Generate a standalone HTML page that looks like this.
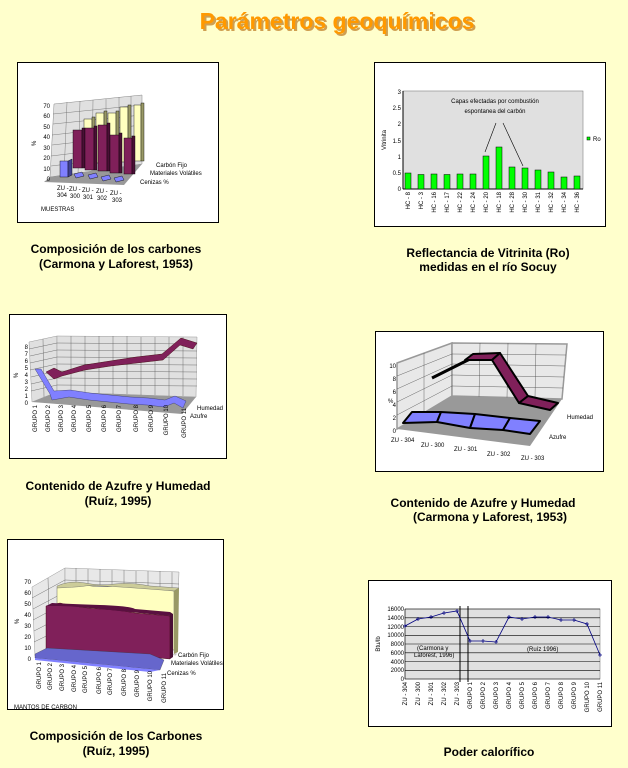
<!DOCTYPE html>
<html><head><meta charset="utf-8"><style>
html,body{margin:0;padding:0;background:#FFFFCC;}
svg{display:block;font-family:"Liberation Sans",Arial,sans-serif;}
.cap{font-size:12px;font-weight:bold;fill:#000;text-anchor:middle;}
.t{font-size:6px;fill:#000;}
.g{stroke:#000;stroke-width:0.5;fill:none;}
</style></head><body>
<svg width="628" height="768" viewBox="0 0 628 768" xmlns="http://www.w3.org/2000/svg">
<rect width="628" height="768" fill="#FFFFCC"/>
<!-- Title -->
<text x="339" y="31" text-anchor="middle" font-size="23" font-weight="bold" fill="#B06000" opacity="0.6">Parámetros geoquímicos</text>
<text x="337" y="29" text-anchor="middle" font-size="23" font-weight="bold" fill="#FF9900">Parámetros geoquímicos</text>

<!-- ===== Chart 1 ===== -->
<rect x="17.5" y="62.5" width="201" height="160" fill="#fff" stroke="#000"/>
<polygon points="54,104 142,95 142,164 50,177" fill="#E0E0E0" stroke="#888" stroke-width="0.5"/>
<g stroke="#666" stroke-width="0.4">
<line x1="53" y1="114" x2="142" y2="105"/><line x1="53" y1="124" x2="142" y2="115"/><line x1="52" y1="135" x2="142" y2="125"/><line x1="52" y1="145" x2="142" y2="135"/><line x1="51" y1="156" x2="142" y2="145"/><line x1="51" y1="166" x2="142" y2="155"/>
<line x1="67" y1="102" x2="64" y2="176"/><line x1="80" y1="101" x2="78" y2="174"/><line x1="93" y1="100" x2="92" y2="172"/><line x1="106" y1="99" x2="106" y2="170"/><line x1="119" y1="97" x2="119" y2="168"/><line x1="131" y1="96" x2="131" y2="166"/>
</g>
<polygon points="50,177 142,164 124,185 44,182" fill="#999"/>
<!-- yellow bars -->
<g stroke="#000" stroke-width="0.4">
<rect x="84" y="119" width="8" height="45" fill="#FFFFC0"/><rect x="92" y="117" width="3" height="47" fill="#999966"/>
<rect x="96" y="113" width="8" height="50" fill="#FFFFC0"/><rect x="104" y="111" width="3" height="52" fill="#999966"/>
<rect x="108" y="113" width="8" height="50" fill="#FFFFC0"/><rect x="116" y="111" width="3" height="52" fill="#999966"/>
<rect x="120" y="107" width="8" height="55" fill="#FFFFC0"/><rect x="128" y="105" width="3" height="57" fill="#999966"/>
<rect x="134" y="105" width="7" height="56" fill="#FFFFC0"/><rect x="141" y="103" width="3" height="58" fill="#999966"/>
<!-- maroon bars -->
<rect x="73" y="130" width="9" height="38" fill="#80205A"/><rect x="82" y="128" width="3" height="40" fill="#4A0F35"/>
<rect x="85" y="128" width="9" height="42" fill="#80205A"/><rect x="94" y="126" width="3" height="44" fill="#4A0F35"/>
<rect x="98" y="125" width="9" height="46" fill="#80205A"/><rect x="107" y="123" width="3" height="48" fill="#4A0F35"/>
<rect x="110" y="135" width="9" height="38" fill="#80205A"/><rect x="119" y="133" width="3" height="40" fill="#4A0F35"/>
<rect x="124" y="138" width="8" height="36" fill="#80205A"/><rect x="132" y="136" width="3" height="38" fill="#4A0F35"/>
<!-- blue -->
<rect x="60" y="161" width="8" height="16" fill="#8080FF"/><polygon points="68,161 72,159 72,175 68,177" fill="#404090"/>
<polygon points="74,174 82,172 84,176 76,178" fill="#8080FF"/><polygon points="88,175 96,173 98,177 90,179" fill="#8080FF"/>
<polygon points="101,177 109,175 111,179 103,181" fill="#8080FF"/><polygon points="114,178 122,176 124,180 116,182" fill="#8080FF"/>
</g>
<g class="t" text-anchor="end">
<text x="50" y="181">0</text><text x="50" y="171">10</text><text x="50" y="160">20</text><text x="50" y="150">30</text><text x="50" y="139">40</text><text x="50" y="129">50</text><text x="50" y="118">60</text><text x="50" y="108">70</text>
</g>
<text class="t" x="36" y="146" transform="rotate(-90 36 146)">%</text>
<g class="t"><text x="57" y="190">ZU -</text><text x="57" y="197">304</text><text x="69" y="191">ZU -</text><text x="70" y="198">300</text><text x="82" y="192">ZU -</text><text x="83" y="199">301</text><text x="96" y="193">ZU -</text><text x="97" y="200">302</text><text x="110" y="195">ZU -</text><text x="112" y="202">303</text>
<text x="41" y="211">MUESTRAS</text>
<text x="156" y="167">Carbón Fijo</text><text x="150" y="175">Materiales Volátiles</text><text x="140" y="184">Cenizas %</text></g>
<text class="cap" x="116" y="253">Composición de los carbones</text>
<text class="cap" x="116" y="268">(Carmona y Laforest, 1953)</text>

<!-- ===== Chart 2 ===== -->
<rect x="374.5" y="62.5" width="231" height="164" fill="#fff" stroke="#000"/>
<rect x="403" y="91" width="180" height="98" fill="#E0E0E0" stroke="#808080" stroke-width="0.6"/>
<line x1="403" y1="91" x2="403" y2="189" stroke="#000"/><line x1="403" y1="189" x2="583" y2="189" stroke="#000"/>
<g class="t" text-anchor="end">
<text x="401" y="191">0</text><text x="401" y="175">0.5</text><text x="401" y="159">1</text><text x="401" y="143">1.5</text><text x="401" y="126">2</text><text x="401" y="110">2.5</text><text x="401" y="94">3</text></g>
<text class="t" x="386" y="140" text-anchor="middle" transform="rotate(-90 386 140)">Vitrinita</text>
<g fill="#00FF00" stroke="#000" stroke-width="0.5">
<rect x="405" y="173" width="6" height="16"/><rect x="418" y="174.5" width="6" height="14.5"/><rect x="431" y="174" width="6" height="15"/><rect x="444" y="174.5" width="6" height="14.5"/><rect x="457" y="174" width="6" height="15"/><rect x="470" y="174" width="6" height="15"/><rect x="483" y="156" width="6" height="33"/><rect x="496" y="147" width="6" height="42"/><rect x="509" y="167" width="6" height="22"/><rect x="522" y="168" width="6" height="21"/><rect x="535" y="170" width="6" height="19"/><rect x="548" y="172" width="6" height="17"/><rect x="561" y="177" width="6" height="12"/><rect x="574" y="176" width="6" height="13"/>
<rect x="587" y="137" width="3" height="3"/></g>
<g class="t">
<text transform="translate(410 192) rotate(-90)" text-anchor="end">HC - 8</text><text transform="translate(423 192) rotate(-90)" text-anchor="end">HC - 3</text><text transform="translate(436 192) rotate(-90)" text-anchor="end">HC - 16</text><text transform="translate(449 192) rotate(-90)" text-anchor="end">HC - 17</text><text transform="translate(462 192) rotate(-90)" text-anchor="end">HC - 22</text><text transform="translate(475 192) rotate(-90)" text-anchor="end">HC - 24</text><text transform="translate(488 192) rotate(-90)" text-anchor="end">HC - 20</text><text transform="translate(501 192) rotate(-90)" text-anchor="end">HC - 18</text><text transform="translate(514 192) rotate(-90)" text-anchor="end">HC - 28</text><text transform="translate(527 192) rotate(-90)" text-anchor="end">HC - 30</text><text transform="translate(540 192) rotate(-90)" text-anchor="end">HC - 31</text><text transform="translate(553 192) rotate(-90)" text-anchor="end">HC - 32</text><text transform="translate(566 192) rotate(-90)" text-anchor="end">HC - 34</text><text transform="translate(579 192) rotate(-90)" text-anchor="end">HC - 36</text>
<text x="593" y="141">Ro</text>
<text x="495" y="103" text-anchor="middle">Capas efectadas por combustión</text>
<text x="495" y="113" text-anchor="middle">espontanea del carbón</text></g>
<line x1="496" y1="123" x2="485" y2="152" stroke="#000" stroke-width="0.6"/><line x1="503" y1="123" x2="523" y2="166" stroke="#000" stroke-width="0.6"/>
<text class="cap" x="488" y="257">Reflectancia de Vitrinita (Ro)</text>
<text class="cap" x="488" y="271">medidas en el río Socuy</text>

<!-- ===== Chart 3 ===== -->
<rect x="9.5" y="314.5" width="217" height="144" fill="#fff" stroke="#000"/>
<polygon points="29,342 57,336 57,392 32,402" fill="#E0E0E0" stroke="#999" stroke-width="0.5"/>
<polygon points="57,336 197,337 196,397 57,392" fill="#E0E0E0" stroke="#999" stroke-width="0.5"/>
<g stroke="#555" stroke-width="0.4">
<line x1="29" y1="349" x2="57" y2="343"/><line x1="30" y1="356" x2="57" y2="350"/><line x1="30" y1="363" x2="57" y2="357"/><line x1="30" y1="370" x2="57" y2="364"/><line x1="31" y1="377" x2="57" y2="371"/><line x1="31" y1="384" x2="57" y2="378"/><line x1="31" y1="391" x2="57" y2="385"/>
<line x1="57" y1="343" x2="197" y2="344"/><line x1="57" y1="350" x2="197" y2="351"/><line x1="57" y1="357" x2="197" y2="358"/><line x1="57" y1="364" x2="197" y2="365"/><line x1="57" y1="371" x2="197" y2="372"/><line x1="57" y1="378" x2="197" y2="379"/><line x1="57" y1="385" x2="197" y2="386"/>
<line x1="71" y1="336" x2="71" y2="392"/><line x1="85" y1="336" x2="85" y2="393"/><line x1="99" y1="336" x2="99" y2="393"/><line x1="113" y1="336" x2="113" y2="394"/><line x1="127" y1="336" x2="127" y2="394"/><line x1="141" y1="337" x2="141" y2="395"/><line x1="155" y1="337" x2="155" y2="395"/><line x1="169" y1="337" x2="169" y2="396"/><line x1="183" y1="337" x2="183" y2="396"/>
<line x1="43" y1="339" x2="44" y2="397"/></g>
<polygon points="32,402 57,392 196,397 182,414" fill="#999"/>
<polygon points="46,372 54,368 62,372 84,365 110,361 136,357 162,354 181,338 197,343 193,349 180,345 163,360 137,363 111,366 85,370 62,376 54,379" fill="#80205A" stroke="#300" stroke-width="0.4"/>
<polygon points="35,369 41,369 54,391 70,390 90,393 110,395 130,397 148,398 165,400 175,396 186,401 183,408 174,403 164,407 147,405 129,404 109,402 89,400 69,397 52,400 50,394" fill="#8080FF" stroke="#336" stroke-width="0.4"/>
<g class="t" text-anchor="end"><text x="28" y="405">0</text><text x="28" y="398">1</text><text x="28" y="391">2</text><text x="28" y="384">3</text><text x="28" y="377">4</text><text x="28" y="370">5</text><text x="28" y="363">6</text><text x="28" y="356">7</text><text x="28" y="349">8</text></g>
<text class="t" x="18" y="378" transform="rotate(-90 18 378)">%</text>
<g class="t" text-anchor="end">
<text transform="translate(37 405) rotate(-90)">GRUPO 1</text><text transform="translate(50 405) rotate(-90)">GRUPO 2</text><text transform="translate(63 405) rotate(-90)">GRUPO 3</text><text transform="translate(76 405) rotate(-90)">GRUPO 4</text><text transform="translate(91 405) rotate(-90)">GRUPO 5</text><text transform="translate(106 405) rotate(-90)">GRUPO 6</text><text transform="translate(121 405) rotate(-90)">GRUPO 7</text><text transform="translate(138 405) rotate(-90)">GRUPO 8</text><text transform="translate(153 405) rotate(-90)">GRUPO 9</text><text transform="translate(168 405) rotate(-90)">GRUPO 10</text><text transform="translate(186 408) rotate(-90)">GRUPO 11</text></g>
<text class="t" x="197" y="410">Humedad</text><text class="t" x="190" y="418">Azufre</text>
<text class="cap" x="118" y="490">Contenido de Azufre y Humedad</text>
<text class="cap" x="118" y="505">(Ruíz, 1995)</text>

<!-- ===== Chart 4 ===== -->
<rect x="375.5" y="331.5" width="228" height="140" fill="#fff" stroke="#000"/>
<polygon points="397,363 452,343 452,396 397,429" fill="#E8E8E8" stroke="#999" stroke-width="1.5"/>
<polygon points="452,343 567,344 562,399 452,396" fill="#E8E8E8" stroke="#999" stroke-width="1.5"/>
<g stroke="#444" stroke-width="0.4">
<line x1="397" y1="376" x2="452" y2="354"/><line x1="397" y1="389" x2="452" y2="364"/><line x1="397" y1="402" x2="452" y2="375"/><line x1="397" y1="415" x2="452" y2="386"/>
<line x1="452" y1="354" x2="566" y2="355"/><line x1="452" y1="364" x2="565" y2="366"/><line x1="452" y1="375" x2="564" y2="377"/><line x1="452" y1="386" x2="563" y2="388"/>
<line x1="424" y1="353" x2="424" y2="412"/><line x1="480" y1="343" x2="479" y2="397"/><line x1="508" y1="343" x2="507" y2="398"/><line x1="536" y1="344" x2="535" y2="398"/></g>
<polygon points="397,429 452,396 562,399 530,446" fill="#999"/>
<line x1="432" y1="378" x2="472" y2="358" stroke="#000" stroke-width="3"/>
<g fill="#80205A" stroke="#000" stroke-width="2" stroke-linejoin="round">
<polygon points="465,360 473,354 500,353 492,360"/>
<polygon points="492,360 500,353 528,396 519,403"/>
<polygon points="519,403 528,396 558,403 550,410"/></g>
<g fill="#8080FF" stroke="#000" stroke-width="2" stroke-linejoin="round">
<polygon points="403,423 412,412 441,412 437,422"/>
<polygon points="437,422 441,412 475,414 470,428"/>
<polygon points="470,428 475,414 510,418 503,430"/>
<polygon points="503,430 510,418 540,421 530,434"/></g>
<g class="t" text-anchor="end"><text x="396" y="433">0</text><text x="396" y="420">2</text><text x="396" y="407">4</text><text x="396" y="394">6</text><text x="396" y="381">8</text><text x="396" y="368">10</text></g>
<text class="t" x="388" y="403">%</text>
<g class="t"><text x="391" y="442">ZU - 304</text><text x="421" y="447">ZU - 300</text><text x="454" y="451">ZU - 301</text><text x="487" y="456">ZU - 302</text><text x="521" y="460">ZU - 303</text>
<text x="567" y="419">Humedad</text><text x="549" y="439">Azufre</text></g>
<text class="cap" x="483" y="507">Contenido de Azufre y Humedad</text>
<text class="cap" x="490" y="521">(Carmona y Laforest, 1953)</text>

<!-- ===== Chart 5 ===== -->
<rect x="7.5" y="539.5" width="216" height="170" fill="#fff" stroke="#000"/>
<polygon points="32,587 65,568 65,650 35,656" fill="#E8E8E8" stroke="#999" stroke-width="0.5"/>
<polygon points="65,568 179,572 176,655 65,650" fill="#E8E8E8" stroke="#999" stroke-width="0.5"/>
<g stroke="#555" stroke-width="0.4">
<line x1="32" y1="598" x2="65" y2="580"/><line x1="33" y1="609" x2="65" y2="592"/><line x1="33" y1="620" x2="65" y2="603"/><line x1="34" y1="631" x2="65" y2="615"/><line x1="34" y1="642" x2="65" y2="627"/><line x1="48" y1="578" x2="50" y2="653"/>
<line x1="65" y1="580" x2="179" y2="584"/><line x1="76" y1="568" x2="76" y2="585"/><line x1="88" y1="569" x2="88" y2="586"/><line x1="100" y1="569" x2="100" y2="586"/><line x1="112" y1="570" x2="112" y2="586"/><line x1="124" y1="570" x2="124" y2="587"/><line x1="136" y1="571" x2="136" y2="588"/><line x1="148" y1="571" x2="148" y2="588"/><line x1="160" y1="571" x2="160" y2="589"/><line x1="172" y1="572" x2="172" y2="589"/></g>
<path d="M57,588 Q70,582 85,585 T115,586 T150,588 L174,591 L174,650 L57,648 Z" fill="#FFFFC0" stroke="#666" stroke-width="0.5"/>
<path d="M57,586 Q70,580 85,583 T115,584 T150,586 L179,588 L174,591 Q150,589 120,587 T85,586 T57,588 Z" fill="#CCCC99" stroke="#666" stroke-width="0.4"/>
<polygon points="174,591 179,588 178,652 174,654" fill="#999966"/>
<path d="M46,606 L60,603 Q80,608 100,609 T135,613 L170,616 L170,659 Q120,654 46,649 Z" fill="#80205A" stroke="#300" stroke-width="0.4"/>
<path d="M46,606 L52,603 Q70,604 100,605 T135,609 L170,612 L170,616 Q130,612 100,609 T60,606 Z" fill="#5A1040"/>
<polygon points="170,612 173,614 173,657 170,659" fill="#4A0F35"/>
<polygon points="35,654 47,648 150,654 164,660 160,670 35,658" fill="#6666CC" stroke="#333" stroke-width="0.3"/>
<polygon points="35,658 160,670 150,672 35,660" fill="#8080FF"/>
<g class="t" text-anchor="end"><text x="31" y="661">0</text><text x="31" y="650">10</text><text x="31" y="639">20</text><text x="31" y="628">30</text><text x="31" y="617">40</text><text x="31" y="606">50</text><text x="31" y="595">60</text><text x="31" y="584">70</text></g>
<text class="t" x="19" y="624" transform="rotate(-90 19 624)">%</text>
<g class="t" text-anchor="end">
<text transform="translate(41 662) rotate(-90)">GRUPO 1</text><text transform="translate(52 663) rotate(-90)">GRUPO 2</text><text transform="translate(64 664) rotate(-90)">GRUPO 3</text><text transform="translate(76 665) rotate(-90)">GRUPO 4</text><text transform="translate(87 666) rotate(-90)">GRUPO 5</text><text transform="translate(101 667) rotate(-90)">GRUPO 6</text><text transform="translate(112 668) rotate(-90)">GRUPO 7</text><text transform="translate(126 669) rotate(-90)">GRUPO 8</text><text transform="translate(139 670) rotate(-90)">GRUPO 9</text><text transform="translate(152 671) rotate(-90)">GRUPO 10</text><text transform="translate(166 673) rotate(-90)">GRUPO 11</text></g>
<g class="t"><text x="178" y="657">Carbón Fijo</text><text x="171" y="665">Materiales Volátiles</text><text x="167" y="675">Cenizas %</text>
<text x="14" y="709">MANTOS DE CARBON</text></g>
<text class="cap" x="116" y="740">Composición de los Carbones</text>
<text class="cap" x="116" y="755">(Ruíz, 1995)</text>

<!-- ===== Chart 6 ===== -->
<rect x="368.5" y="580.5" width="243" height="146" fill="#fff" stroke="#000"/>
<rect x="405" y="609" width="195" height="70" fill="#E0E0E0" stroke="#808080" stroke-width="0.6"/>
<g stroke="#000" stroke-width="0.6">
<line x1="405" y1="609" x2="600" y2="609"/><line x1="405" y1="617.8" x2="600" y2="617.8"/><line x1="405" y1="626.5" x2="600" y2="626.5"/><line x1="405" y1="635.3" x2="600" y2="635.3"/><line x1="405" y1="644" x2="600" y2="644"/><line x1="405" y1="652.8" x2="600" y2="652.8"/><line x1="405" y1="661.5" x2="600" y2="661.5"/><line x1="405" y1="670.3" x2="600" y2="670.3"/>
<line x1="405" y1="609" x2="405" y2="679"/><line x1="405" y1="679" x2="600" y2="679"/>
<line x1="460" y1="606" x2="460" y2="682" stroke-width="1"/><line x1="468" y1="606" x2="468" y2="682" stroke-width="1"/></g>
<polyline points="405,626 418,619 431,617 444,613 457,611 470,641 483,641 496,642 509,617 522,619 535,617 548,617 561,620 574,620 587,624 600,655" fill="none" stroke="#000080" stroke-width="0.8"/>
<g stroke="#000080" stroke-width="0.8">
<path d="M403,626h4M405,624v4M416,619h4M418,617v4M429,617h4M431,615v4M442,613h4M444,611v4M455,611h4M457,609v4M468,641h4M470,639v4M481,641h4M483,639v4M494,642h4M496,640v4M507,617h4M509,615v4M520,619h4M522,617v4M533,617h4M535,615v4M546,617h4M548,615v4M559,620h4M561,618v4M572,620h4M574,618v4M585,624h4M587,622v4M598,655h4M600,653v4"/></g>
<g class="t" text-anchor="end"><text x="404" y="681">0</text><text x="404" y="672">2000</text><text x="404" y="664">4000</text><text x="404" y="655">6000</text><text x="404" y="646">8000</text><text x="404" y="637">10000</text><text x="404" y="629">12000</text><text x="404" y="620">14000</text><text x="404" y="611">16000</text></g>
<text class="t" x="380" y="644" text-anchor="middle" transform="rotate(-90 380 644)">Btu/lb</text>
<g class="t"><text x="417" y="650">(Carmona y</text><text x="414" y="657">Laforest, 1996)</text><text x="527" y="651">(Ruíz 1996)</text></g>
<g class="t" text-anchor="end">
<text transform="translate(407 682) rotate(-90)">ZU - 304</text><text transform="translate(420 682) rotate(-90)">ZU - 300</text><text transform="translate(433 682) rotate(-90)">ZU - 301</text><text transform="translate(446 682) rotate(-90)">ZU - 302</text><text transform="translate(459 682) rotate(-90)">ZU - 303</text><text transform="translate(472 682) rotate(-90)">GRUPO 1</text><text transform="translate(485 682) rotate(-90)">GRUPO 2</text><text transform="translate(498 682) rotate(-90)">GRUPO 3</text><text transform="translate(511 682) rotate(-90)">GRUPO 4</text><text transform="translate(524 682) rotate(-90)">GRUPO 5</text><text transform="translate(537 682) rotate(-90)">GRUPO 6</text><text transform="translate(550 682) rotate(-90)">GRUPO 7</text><text transform="translate(563 682) rotate(-90)">GRUPO 8</text><text transform="translate(576 682) rotate(-90)">GRUPO 9</text><text transform="translate(589 682) rotate(-90)">GRUPO 10</text><text transform="translate(602 682) rotate(-90)">GRUPO 11</text></g>
<text class="cap" x="489" y="756">Poder calorífico</text>
</svg>
</body></html>
